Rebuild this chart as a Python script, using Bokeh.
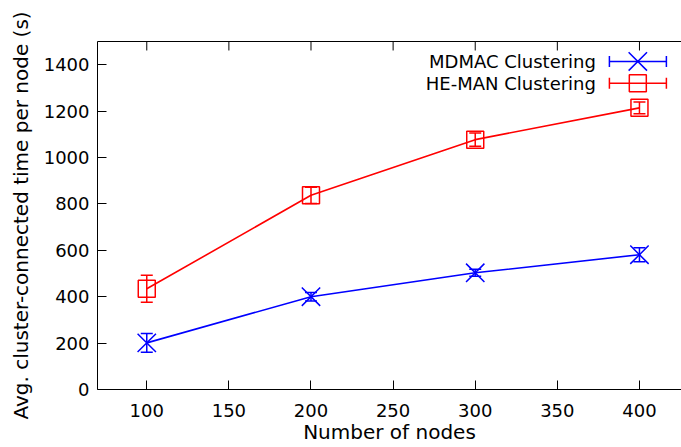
from bokeh.plotting import figure
from bokeh.models import ColumnDataSource, Whisker, TeeHead, LinearAxis, FixedTicker, Range1d, Arrow
from bokeh.embed import file_html
from bokeh.resources import INLINE
from bokeh.core.properties import value

# Data
nodes = [100, 200, 300, 400]
mdmac = [201, 400, 503, 581]
mdmac_err = [40, 18, 15, 30]
heman = [434, 837, 1077, 1214]
heman_err = [58, 35, 29, 25]
x_ticks = [100, 150, 200, 250, 300, 350, 400]
y_ticks = [0, 200, 400, 600, 800, 1000, 1200, 1400]

FONT = "DejaVu Sans"
FS = "18px"
TS = "20px"
X0, X1, Y0, Y1 = 70, 425.6, 0, 1500

p = figure(width=681, height=447, output_backend="svg", toolbar_location=None,
           x_range=Range1d(X0, X1), y_range=Range1d(Y0, Y1),
           min_border_left=97, min_border_right=0, min_border_top=41, min_border_bottom=58,
           x_axis_label="Number of nodes",
           y_axis_label="Avg. cluster-connected time per node (s)")
p.outline_line_color = None
p.grid.visible = False
p.background_fill_color = "white"
p.border_fill_color = "white"

for ax, ticks in ((p.xaxis[0], x_ticks), (p.yaxis[0], y_ticks)):
    ax.ticker = FixedTicker(ticks=ticks)
    ax.major_tick_in = 9
    ax.major_tick_out = 0
    ax.minor_tick_line_color = None
    ax.axis_line_color = "black"
    ax.major_tick_line_color = "black"
    ax.major_label_text_font = FONT
    ax.major_label_text_font_size = FS
    ax.major_label_text_color = "black"
    ax.axis_label_text_font = FONT
    ax.axis_label_text_font_size = TS
    ax.axis_label_text_font_style = "normal"
    ax.axis_label_text_color = "black"
p.xaxis[0].major_label_standoff = 14
p.xaxis[0].axis_label_standoff = 0
p.yaxis[0].major_label_standoff = 8
p.yaxis[0].axis_label_standoff = 8

# top border with inward tick marks (mirror of the x axis)
top = LinearAxis(ticker=FixedTicker(ticks=[]), axis_line_color="black",
                 major_tick_line_color=None, minor_tick_line_color=None)
p.add_layout(top, "above")
tick_len = 9 * (Y1 - Y0) / (389.3 - 41)
p.segment(x0=x_ticks, y0=[Y1] * len(x_ticks), x1=x_ticks, y1=[Y1 - tick_len] * len(x_ticks),
          line_color="black", line_width=1)

src_m = ColumnDataSource(dict(x=nodes, y=mdmac,
                              lo=[v - e for v, e in zip(mdmac, mdmac_err)],
                              hi=[v + e for v, e in zip(mdmac, mdmac_err)]))
src_h = ColumnDataSource(dict(x=nodes, y=heman,
                              lo=[v - e for v, e in zip(heman, heman_err)],
                              hi=[v + e for v, e in zip(heman, heman_err)]))

p.line("x", "y", source=src_h, line_color="red", line_width=1.6)
p.line("x", "y", source=src_m, line_color="blue", line_width=1.6)
for src, col in ((src_h, "red"), (src_m, "blue")):
    w = Whisker(source=src, base="x", upper="hi", lower="lo", line_color=col, line_width=1.5,
                upper_head=TeeHead(size=12, line_color=col, line_width=1.5),
                lower_head=TeeHead(size=12, line_color=col, line_width=1.5))
    p.add_layout(w)
p.scatter("x", "y", source=src_h, marker="square", size=17, fill_color=None,
          line_color="red", line_width=1.5)
p.scatter("x", "y", source=src_m, marker="x", size=26, line_color="blue", line_width=1.5)

# legend (gnuplot style: label on the left, sample on the right)
labels = ["MDMAC Clustering", "HE-MAN Clustering"]
colors = ["blue", "red"]
markers = ["x", "square"]
msizes = [26, 17]
leg_y = [1414, 1320]
for lab, col, mk, ms, ly in zip(labels, colors, markers, msizes, leg_y):
    p.text(x=[373.5], y=[ly], text=[lab], text_align="right", text_baseline="middle",
           text_font=value(FONT), text_font_size=FS, text_color="black")
    p.add_layout(Arrow(x_start=381.7, y_start=ly, x_end=416.4, y_end=ly,
                       line_color=col, line_width=1.5,
                       start=TeeHead(size=11, line_color=col, line_width=1.5),
                       end=TeeHead(size=11, line_color=col, line_width=1.5)))
    p.scatter(x=[399], y=[ly], marker=mk, size=ms, fill_color=None, line_color=col, line_width=1.5)

open("out.html", "w").write(file_html(p, INLINE))
